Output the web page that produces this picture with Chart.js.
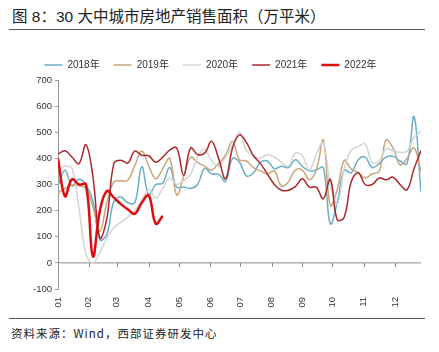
<!DOCTYPE html>
<html>
<head>
<meta charset="utf-8">
<script src="https://cdn.jsdelivr.net/npm/chart.js@4.4.1/dist/chart.umd.min.js"></script>
<style>
  html, body { margin: 0; padding: 0; background: #fff; }
  body { width: 439px; height: 352px; position: relative; overflow: hidden;
         font-family: "Liberation Sans", "Noto Sans CJK SC", sans-serif; }
  .title { position: absolute; left: 12px; top: 4px; font-size: 15.5px; color: #222; white-space: nowrap;
           font-family: "Liberation Sans", "Noto Sans CJK SC", sans-serif; }
  .rule { position: absolute; left: 9px; width: 416px; height: 0; border-top: 1.5px solid #555; }
  #wrap { position: absolute; left: 0; top: 32px; width: 439px; height: 284px; }
  .src { position: absolute; left: 11px; top: 325px; font-size: 11.5px; letter-spacing: 1px; color: #222; white-space: nowrap;
         font-family: "Noto Sans CJK SC", sans-serif; }
</style>
</head>
<body>
<div class="title">图 8：30 大中城市房地产销售面积（万平米）</div>
<div class="rule" style="top:29px"></div>
<div id="wrap"><canvas id="chart"></canvas></div>
<div class="rule" style="top:318px"></div>
<div class="src">资料来源：Wind，西部证券研发中心</div>

<script>
// weekly points, x = week of year
const weeks = [0,1,2,3,4,5,6,7,8,9,10,11,12,13,14,15,16,17,18,19,20,21,22,23,24,25,26,
  27,28,29,30,31,32,33,34,35,36,37,38,39,40,41,42,43,44,45,46,47,48,49,50,51,52]

// month ticks (in weeks) and their labels
const monthTicks = [0, 4.4, 8.4, 13.0, 17.4, 21.8, 26.1, 30.6, 35.0, 39.3, 43.8, 48.3]
const monthLabels = ["01","02","03","04","05","06","07","08","09","10","11","12"]

const s2018 = [295,355,295,320,300,235,88,110,235,252,230,230,368,260,300,305,365,290,290,285,
  300,362,340,340,312,400,385,333,345,385,390,360,370,365,395,370,352,356,365,150,
  230,355,345,395,405,365,380,405,408,390,380,560,270]
const s2019 = [268,285,298,296,285,215,120,230,310,314,316,372,428,370,322,360,400,260,330,404,
  385,370,355,380,412,465,395,390,365,352,340,352,295,310,355,355,318,355,470,220,
  280,392,360,345,325,340,350,470,440,375,400,440,352]
const s2020 = [360,370,362,210,35,0,40,95,135,155,175,200,240,280,248,285,325,300,315,340,
  405,435,392,370,405,450,500,430,410,400,415,405,385,370,420,410,355,415,460,300,
  225,360,432,445,455,385,390,436,428,423,428,480,505]
const s2021 = [416,429,405,380,452,330,95,170,380,393,382,428,412,410,385,405,432,440,335,440,
  415,420,465,400,322,440,490,460,410,380,340,300,278,278,292,322,290,290,245,320,
  165,175,310,345,300,300,325,318,328,300,280,360,430]
const s2022 = [400,255,320,300,300,25,200,275,250,225,205,188,230,258,150,180]

const yTicks = [-100, 0, 100, 200, 300, 400, 500, 600, 700]

const toPoints = vals => vals.map((v, i) => ({ x: weeks[i], y: v }))

// zero line with small month ticks
const zeroLine = {
  id: "zeroLine",
  beforeDatasetsDraw(chart) {
    const { ctx, chartArea, scales } = chart
    const y0 = scales.y.getPixelForValue(0)
    ctx.save()
    ctx.strokeStyle = "#8c8c8c"
    ctx.lineWidth = 1
    ctx.beginPath()
    ctx.moveTo(chartArea.left, y0)
    ctx.lineTo(chartArea.right, y0)
    scales.x.ticks.forEach(t => {
      const px = Math.round(scales.x.getPixelForValue(t.value)) + 0.5
      ctx.moveTo(px, y0)
      ctx.lineTo(px, y0 + 4)
    })
    ctx.stroke()
    ctx.restore()
  },
}

const ctx = document.getElementById("chart").getContext("2d")
new Chart(ctx, {
  type: "line",
  data: {
    datasets: [
      { label: "2018年", data: toPoints(s2018), borderColor: "#6aaec8", backgroundColor: "#6aaec8", borderWidth: 1.5, order: 5 },
      { label: "2019年", data: toPoints(s2019), borderColor: "#c9a47c", backgroundColor: "#c9a47c", borderWidth: 1.5, order: 4 },
      { label: "2020年", data: toPoints(s2020), borderColor: "#d4d4d4", backgroundColor: "#d4d4d4", borderWidth: 1.5, order: 3 },
      { label: "2021年", data: toPoints(s2021), borderColor: "#a8282b", backgroundColor: "#a8282b", borderWidth: 1.5, order: 2 },
      { label: "2022年", data: toPoints(s2022), borderColor: "#dd0e0e", backgroundColor: "#dd0e0e", borderWidth: 2.5, order: 1 },
    ],
  },
  options: {
    responsive: true,
    maintainAspectRatio: false,
    animation: false,
    layout: { padding: { top: 14, right: 18, bottom: 0, left: 0 } },
    elements: {
      point: { radius: 0 },
      line: { tension: 0.4, fill: false },
    },
    plugins: {
      tooltip: { enabled: false },
      legend: {
        position: "top",
        labels: {
          usePointStyle: true,
          pointStyle: "line",
          pointStyleWidth: 18,
          padding: 14,
          color: "#333",
          font: { size: 10, family: "'Liberation Sans', 'Noto Sans CJK SC', sans-serif" },
          sort: (a, b) => a.datasetIndex - b.datasetIndex,
        },
      },
    },
    scales: {
      x: {
        type: "linear",
        min: 0,
        max: 52,
        afterBuildTicks: s => { s.ticks = monthTicks.map(v => ({ value: v })) },
        afterFit: s => { s.height = 27 },
        ticks: {
          autoSkip: false,
          minRotation: 90,
          maxRotation: 90,
          padding: 8,
          color: "#333",
          font: { size: 9.5, family: "'Liberation Sans', sans-serif" },
          callback: (v, i) => monthLabels[i],
        },
        grid: { display: false, drawTicks: false },
        border: { display: false },
      },
      y: {
        min: -100,
        max: 700,
        afterBuildTicks: s => { s.ticks = yTicks.map(v => ({ value: v })) },
        afterFit: s => { s.width = 58 },
        ticks: {
          padding: 3,
          color: "#333",
          font: { size: 9.5, family: "'Liberation Sans', sans-serif" },
        },
        grid: { display: true, drawOnChartArea: false, drawTicks: true, tickLength: 3, color: "#999" },
        border: { display: true, color: "#999" },
      },
    },
  },
  plugins: [zeroLine],
})
</script>
</body>
</html>
